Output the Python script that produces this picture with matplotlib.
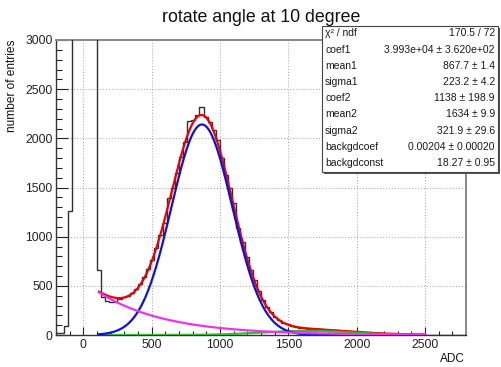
import numpy as np
import matplotlib
matplotlib.use("Agg")
import matplotlib.pyplot as plt
from matplotlib.patches import Rectangle
from matplotlib.ticker import MultipleLocator

plt.rcParams['font.family'] = ['Liberation Sans', 'DejaVu Sans']

W, H = 501, 367

title = "rotate angle at 10 degree"
x_label = "ADC"
y_label = "number of entries"

# ADC histogram: 100 bins of width 30 from -200 to 2800
bin_low, bin_high, n_bins = -200, 2800, 100
counts = [
    20, 20, 95, 1260, 9800, 41000, 63000, 37000, 11500, 4300,
    660, 385, 345, 340, 335, 365, 385, 400, 428, 468,
    520, 592, 668, 760, 880, 1020, 1140, 1390, 1495, 1650,
    1815, 1962, 2180, 2185, 2238, 2322, 2222, 2170, 2085, 1985,
    1800, 1630, 1500, 1340, 1090, 950, 795, 665, 560, 445,
    358, 280, 232, 188, 150, 122, 110, 92, 85, 74,
    72, 64, 63, 58, 57, 53, 52, 48, 46, 44,
    39, 37, 33, 32, 27, 26, 22, 21, 18, 17,
    14, 13, 11, 10, 9, 8, 7, 6, 5, 5,
    4, 3, 3, 2, 2, 3, 2, 1, 1, 1,
]

# fit results (two gaussians + exponential background)
chi2, ndf = 170.5, 72
coef1, coef1_err = 3.993e4, 3.620e2
mean1, mean1_err = 867.7, 1.4
sigma1, sigma1_err = 223.2, 4.2
coef2, coef2_err = 1138, 198.9
mean2, mean2_err = 1634, 9.9
sigma2, sigma2_err = 321.9, 29.6
bkg_coef, bkg_coef_err = 0.00204, 0.00020
bkg_const, bkg_const_err = 18.27, 0.95
fit_low, fit_high = 115, 2500

stat_names = ["χ² / ndf", "coef1", "mean1", "sigma1", "coef2",
              "mean2", "sigma2", "backgdcoef", "backgdconst"]
stat_values = [
    f"{chi2} / {ndf}",
    "3.993e+04 ± 3.620e+02",
    f"{mean1} ± {mean1_err}",
    f"{sigma1} ± {sigma1_err}",
    f"{coef2} ± {coef2_err}",
    f"{mean2} ± {mean2_err}",
    f"{sigma2} ± {sigma2_err}",
    "0.00204 ± 0.00020",
    f"{bkg_const} ± {bkg_const_err}",
]

edges = np.linspace(bin_low, bin_high, n_bins + 1)
bw = edges[1] - edges[0]


def gaus(x, c, m, s):
    return bw * c / (np.sqrt(2 * np.pi) * s) * np.exp(-0.5 * ((x - m) / s) ** 2)


def bkg(x):
    return bw * bkg_const * np.exp(-bkg_coef * x)


xf = np.linspace(fit_low, fit_high, 500)
g1 = gaus(xf, coef1, mean1, sigma1)
g2 = gaus(xf, coef2, mean2, sigma2)
bg = bkg(xf)
total = g1 + g2 + bg

fig = plt.figure(figsize=(W / 100, H / 100), dpi=100)
ax = fig.add_axes([56 / W, 1 - 335 / H, (466 - 56) / W, (335 - 40) / H])

ax.stairs(counts, edges, color='#303030', lw=1.0, baseline=None, zorder=3)
ax.plot(xf, total, color='#ee0000', lw=1.6, zorder=4)
ax.plot(xf, g2, color='#33bb33', lw=1.6, zorder=5)
ax.plot(xf, g1, color='#1010dd', lw=1.6, zorder=6)
ax.plot(xf, bg, color='#ee33ee', lw=1.6, zorder=7)

ax.set_xlim(bin_low, bin_high)
ax.set_ylim(0, 3000)
ax.xaxis.set_major_locator(MultipleLocator(500))
ax.xaxis.set_minor_locator(MultipleLocator(100))
ax.yaxis.set_major_locator(MultipleLocator(500))
ax.yaxis.set_minor_locator(MultipleLocator(100))
ax.tick_params(axis='x', which='major', direction='in', length=6.1, width=0.8,
               labelsize=8.7, pad=3, colors='#222222')
ax.tick_params(axis='x', which='minor', direction='in', length=3.1, width=0.8,
               colors='#222222')
ax.tick_params(axis='y', which='major', direction='in', length=8.3, width=0.8,
               labelsize=8.7, pad=2.4, colors='#222222')
ax.tick_params(axis='y', which='minor', direction='in', length=4.1, width=0.8,
               colors='#222222')
ax.grid(True, which='major', ls=(0, (1, 2)), color='#a0a0a0', lw=0.7, zorder=0)
ax.set_axisbelow(True)
for side in ('left', 'bottom'):
    ax.spines[side].set_color('#333333')
    ax.spines[side].set_linewidth(1.0)
for side in ('top', 'right'):
    ax.spines[side].set_color('#888888')
    ax.spines[side].set_linewidth(1.4)


def fx(px):
    return px / W


def fy(py):
    return 1 - py / H


fig.text(fx(261), fy(21.7), title, ha='center', va='baseline', fontsize=12.8,
         color='#111111')
fig.text(fx(12.2), fy(40), y_label, rotation=90, ha='center', va='top',
         fontsize=8.6, color='#111111')
fig.text(fx(465), fy(362.5), x_label, ha='right', va='baseline', fontsize=8.5,
         color='#111111')

# statistics box
bx0, bx1, by0, by1 = 322, 498, 26, 172
fig.patches.append(Rectangle((fx(bx0 + 1.5), fy(by1 + 1.5)), (bx1 - bx0) / W,
                             (by1 - by0) / H, transform=fig.transFigure,
                             facecolor='#555555', edgecolor='none', zorder=10))
fig.patches.append(Rectangle((fx(bx0), fy(by1)), (bx1 - bx0) / W,
                             (by1 - by0) / H, transform=fig.transFigure,
                             facecolor='white', edgecolor='#444444', lw=0.8,
                             zorder=11))
row_h = (by1 - by0) / len(stat_names)
for i, (name, val) in enumerate(zip(stat_names, stat_values)):
    yc = by0 + row_h * (i + 0.45)
    fig.text(fx(325), fy(yc), name, ha='left', va='center', fontsize=7.5,
             color='#1a1a1a', zorder=12)
    fig.text(fx(495), fy(yc), val, ha='right', va='center', fontsize=7.5,
             color='#1a1a1a', zorder=12)

fig.savefig("out.png", dpi=100)
